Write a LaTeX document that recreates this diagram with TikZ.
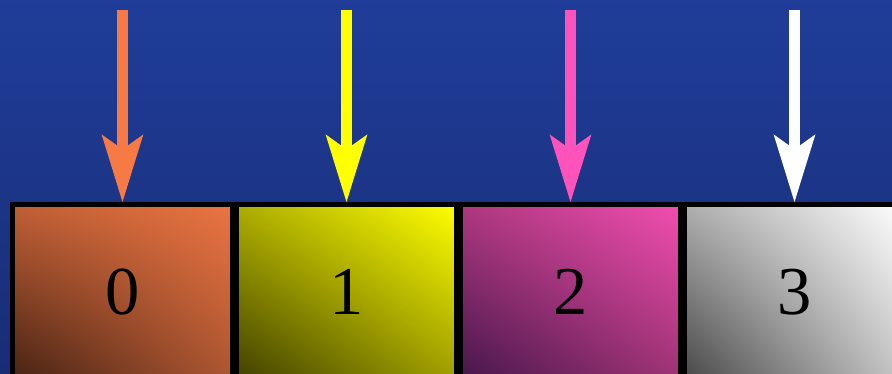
\documentclass[tikz,border=0pt]{standalone}
\usepackage{fontspec}
\setmainfont{Liberation Serif}
\usetikzlibrary{arrows.meta,shadings}

\definecolor{bgtop}{HTML}{1F3D99}
\definecolor{bgbot}{HTML}{192D76}
\definecolor{ptrorange}{HTML}{F77A45}
\definecolor{ptryellow}{HTML}{FFFF00}
\definecolor{ptrpink}{HTML}{FF52BA}

\begin{document}
\begin{tikzpicture}[x=0.02cm, y=-0.02cm,
    cell/.style={draw=black, line width=2.85pt, inner sep=0pt,
      minimum width=4.41cm, minimum height=3.5cm,
      font=\fontsize{39}{45}\selectfont},
    pointer/.style={line width=6.2pt,
      -{Stealth[length=38.5pt, width=23.8pt, inset=8.5pt, line width=0pt]}}]
                \useasboundingbox (0,0) rectangle (892,373);
                \clip (0,0) rectangle (892,373);

                % Background
                \shade[top color=bgtop, bottom color=bgbot] (0,0) rectangle (892,373);

                % Cells
                \node[cell, upper right=ptrorange!95!black, lower left=ptrorange!28!black,
                  upper left=ptrorange!78!black, lower right=ptrorange!70!black] (c0) at (122.5,292) {0};
                \node[cell, upper right=ptryellow, lower left=ptryellow!25!black,
                  upper left=ptryellow!68!black, lower right=ptryellow!62!black] (c1) at (346.5,292) {1};
                \node[cell, upper right=ptrpink!95!black, lower left=ptrpink!30!black!90!blue,
                  upper left=ptrpink!68!black, lower right=ptrpink!62!black] (c2) at (570.5,292) {2};
                \node[cell, upper right=white, lower left=black!72, upper left=black!32,
                  lower right=black!22] (c3) at (794.5,292) {3};

                % Pointers
                \coordinate (t0) at (122.5,10);
                \coordinate (t1) at (346.5,10);
                \coordinate (t2) at (570.5,10);
                \coordinate (t3) at (794.5,10);
                \draw[pointer, ptrorange] (t0) -- (c0.north);
                \draw[pointer, ptryellow] (t1) -- (c1.north);
                \draw[pointer, ptrpink] (t2) -- (c2.north);
                \draw[pointer, white] (t3) -- (c3.north);
            \end{tikzpicture}
\end{document}
